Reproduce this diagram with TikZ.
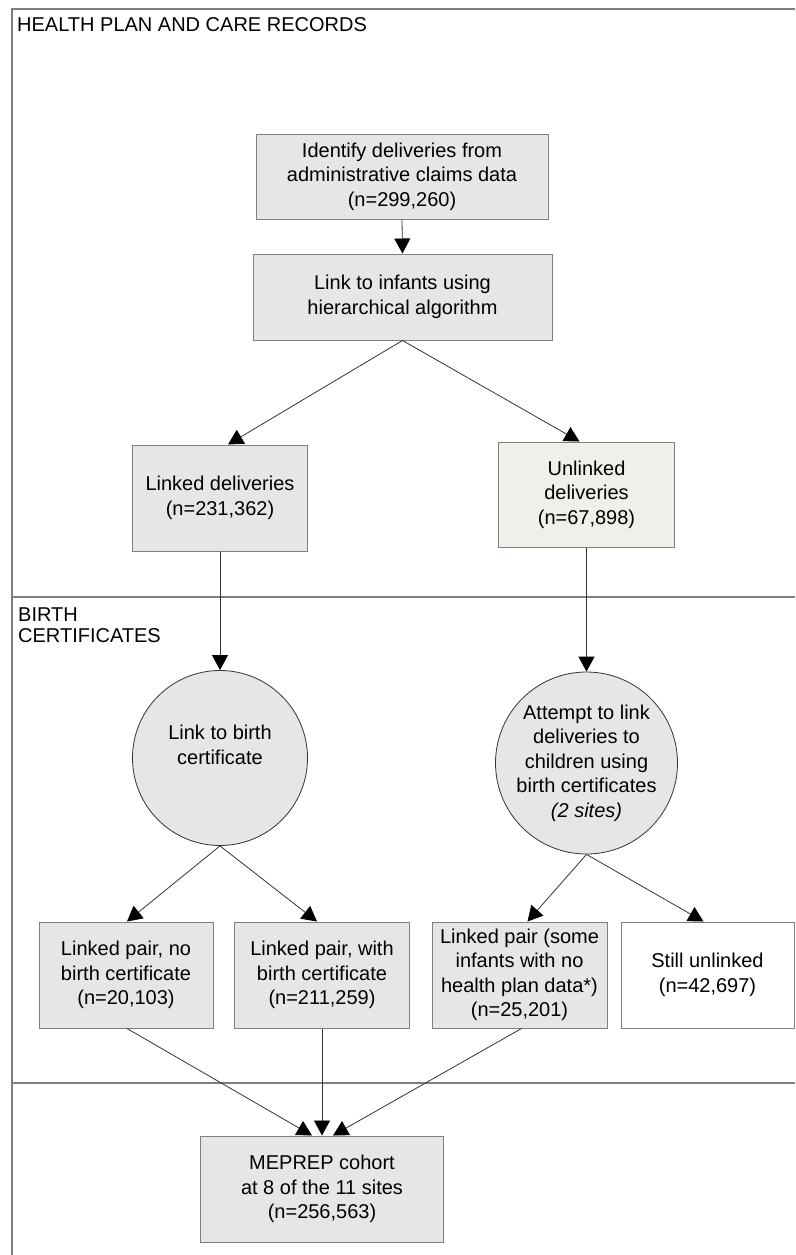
\documentclass[tikz,border=0pt]{standalone}
\usepackage{fontspec}
\setmainfont{Liberation Sans}
\usetikzlibrary{arrows.meta}
\definecolor{boxgray}{HTML}{E6E6E6}
\definecolor{boxgreen}{HTML}{F0F0EA}
\definecolor{edgegray}{HTML}{7F7F7F}
\definecolor{linecol}{HTML}{333333}
\newcommand{\mainsize}{\fontsize{20}{24.5}\selectfont}
\tikzset{bigtri/.tip={Triangle[length=15pt,width=16pt,color=black]}}
\begin{document}
\begin{tikzpicture}[x=1pt,y=-1pt,
  box/.style={draw=edgegray, line width=1pt, fill=boxgray, rectangle, inner sep=0pt, align=center, font=\mainsize},
  circ/.style={draw=linecol, line width=0.8pt, fill=boxgray, circle, inner sep=0pt, minimum size=175pt},
  plain/.style={inner sep=0pt, align=center, font=\mainsize},
  lane/.style={inner sep=0pt, anchor=base west, font=\mainsize},
  frame/.style={draw=edgegray, line width=1.2pt},
  conn/.style={draw=linecol, line width=0.8pt},
  arr/.style={conn, -bigtri}]
\useasboundingbox (0,0) rectangle (795,1255);
% frame
\draw[frame] (12,1255) -- (12,9) -- (795,9);
\draw[frame] (12,597) -- (795,597);
\draw[frame] (12,1083) -- (795,1083);
\node[lane] (lt1) at (17,32) {HEALTH PLAN AND CARE RECORDS};
\node[lane] (lt2) at (18,621) {BIRTH};
\node[lane] (lt3) at (18,642) {CERTIFICATES};
% nodes
\node[box, minimum width=292pt, minimum height=85pt] (b1) at (402,176.5) {Identify deliveries from\\administrative claims data\\(n=299,260)};
\node[box, minimum width=299pt, minimum height=86pt] (b2) at (402.5,297) {Link to infants using\\hierarchical algorithm};
\node[box, minimum width=175pt, minimum height=106pt] (b3) at (220,498) {Linked deliveries\\(n=231,362)};
\node[box, fill=boxgreen, minimum width=176pt, minimum height=105pt] (b4) at (586.5,494.5) {Unlinked\\deliveries\\(n=67,898)};
\node[circ] (c1) at (220,758) {};
\node[plain] (t1) at (220,745) {Link to birth\\certificate};
\node[circ, align=center, font=\mainsize] (c2) at (586.5,763) {Attempt to link\\deliveries to\\children using\\birth certificates\\\textit{(2 sites)}};
\node[box, minimum width=174pt, minimum height=106pt] (b5) at (126,975) {Linked pair, no\\birth certificate\\(n=20,103)};
\node[box, minimum width=175pt, minimum height=106pt] (b6) at (322,975) {Linked pair, with\\birth certificate\\(n=211,259)};
\node[box, minimum width=175pt, minimum height=106pt] (b7) at (519.5,975) {Linked pair (some\\infants with no\\health plan data*)\\(n=25,201)};
\node[box, fill=white, minimum width=173pt, minimum height=106pt] (b8) at (707.5,975) {Still unlinked\\(n=42,697)};
\node[box, minimum width=243pt, minimum height=106pt] (b9) at (322,1189) {MEPREP cohort\\at 8 of the 11 sites\\(n=256,563)};
% connectors
\draw[arr] (b1.south) -- (b2.north);
\draw[arr] (b2.south) -- ([xshift=8pt]b3.north);
\draw[arr] (b2.south) -- ([xshift=-7pt]b4.north);
\draw[arr] (b3.south) -- (c1.north);
\draw[arr] (b4.south) -- (c2.north);
\draw[arr] (c1.south) -- ([xshift=1pt]b5.north);
\draw[arr] (c1.south) -- ([xshift=-5pt]b6.north);
\draw[arr] (c2.south) -- ([xshift=8pt]b7.north);
\draw[arr] (c2.south) -- ([xshift=-4pt]b8.north);
\draw[arr] ([xshift=1pt]b5.south) -- ([xshift=-10pt]b9.north);
\draw[arr] (b6.south) -- (b9.north);
\draw[arr] ([xshift=2pt]b7.south) -- ([xshift=11pt]b9.north);
\end{tikzpicture}
\end{document}
